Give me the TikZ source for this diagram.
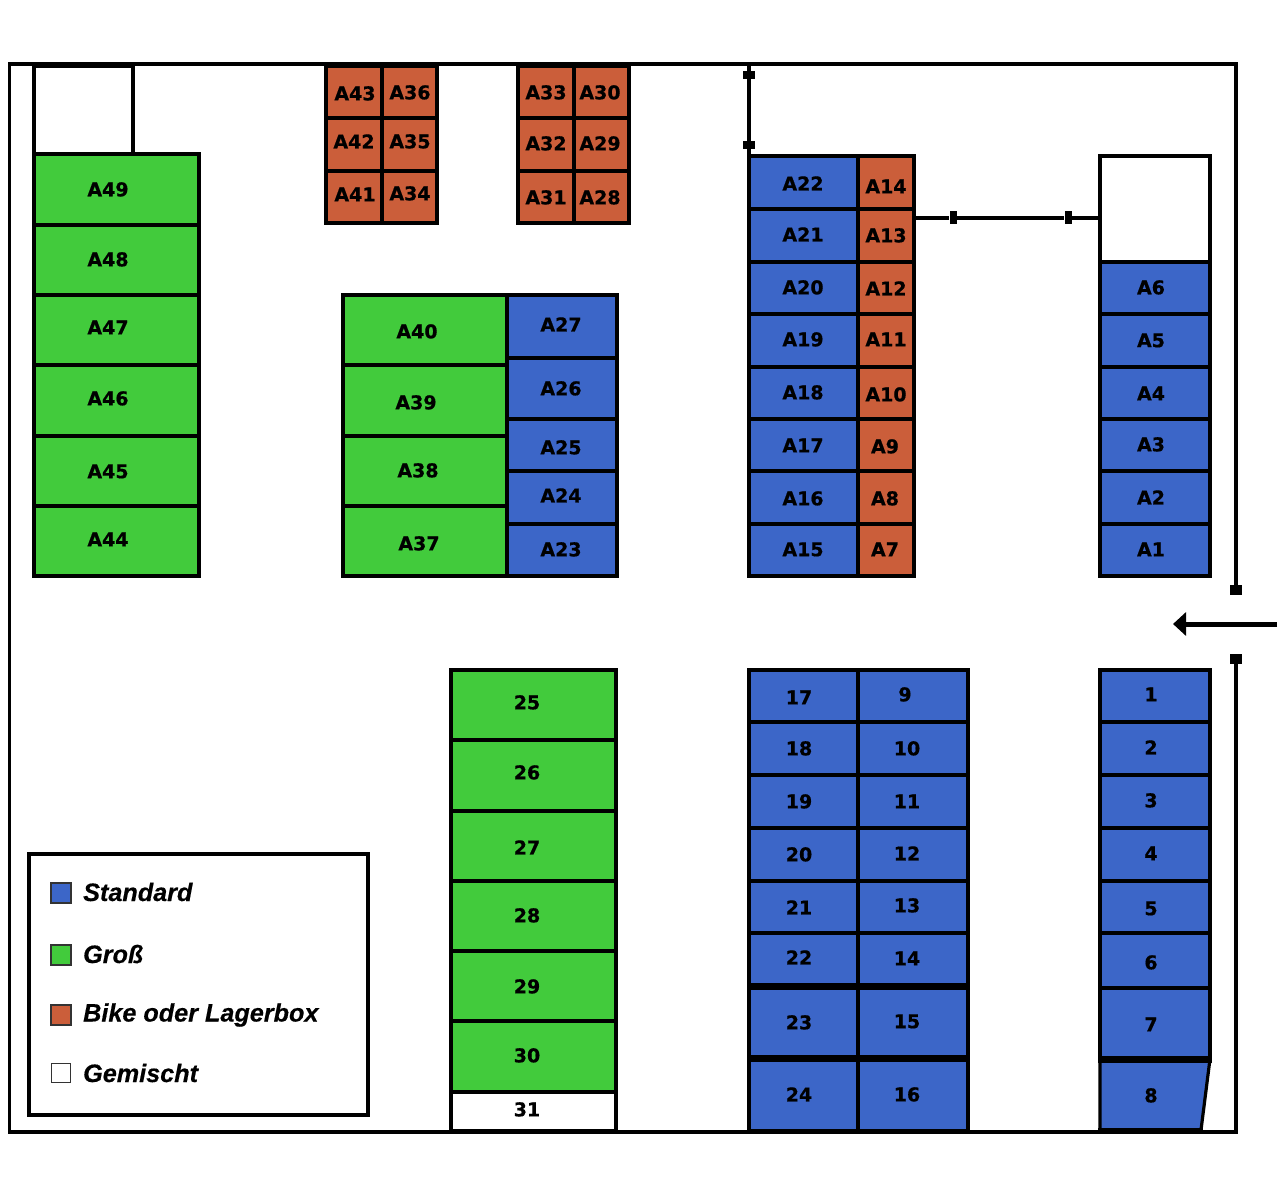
\documentclass[tikz,border=0pt]{standalone}
\usepackage{fontspec}
\setmainfont{DejaVu Sans}
\newfontfamily\cellfont[UprightFont=* Bold,FakeBold=0.6]{DejaVu Sans}
\newfontfamily\legendfont[UprightFont=* Bold Italic,FakeBold=0.4]{Liberation Sans}
\usetikzlibrary{arrows.meta}
\definecolor{stdblue}{RGB}{60,102,200}
\definecolor{bigreen}{RGB}{66,203,60}
\definecolor{bikered}{RGB}{203,94,58}
\tikzset{
	wall/.style={draw=black,line width=3.2pt},
	slot/.style={draw=black,line width=3.2pt},
	seam/.style={draw=black,line width=7pt},
	post/.style={fill=black,inner sep=0pt,minimum width=#1},
	lbl/.style={font=\cellfont\fontsize{19}{20}\selectfont,inner sep=0pt,yshift=-0.4pt},
	swatch/.style={draw=black!80,line width=1.5pt,minimum size=20pt,inner sep=0pt},
	legtext/.style={font=\legendfont\fontsize{25.2}{28}\selectfont,anchor=west,inner sep=0pt}
}
\begin{document}
\begin{tikzpicture}[x=1pt,y=-1pt]
	\useasboundingbox[fill=white] (0,0) rectangle (1286,1177);
	\coordinate (gateup) at (1236,590);
	\coordinate (gatedown) at (1236,659);
	\draw[wall] (gateup) -- (1236,64) -- (9.5,64) -- (9.5,1132) -- (1236,1132) -- (gatedown);
	\draw[slot] (34,66) rectangle (133,154);
	\foreach \t/\b in {154/225,225/295,295/365,365/436,436/506,506/576}
		\draw[slot,fill=bigreen] (34,\t) rectangle (199,\b);
	\foreach \xa/\xb in {326/382,382/437,518/574,574/629}
		\foreach \t/\b in {66/118,118/171,171/223}
			\draw[slot,fill=bikered] (\xa,\t) rectangle (\xb,\b);
	\foreach \t/\b in {295/365,365/436,436/506,506/576}
		\draw[slot,fill=bigreen] (343,\t) rectangle (507,\b);
	\foreach \t/\b in {295/358,358/419,419/471,471/524,524/576}
		\draw[slot,fill=stdblue] (507,\t) rectangle (617,\b);
	\foreach \t/\b in {156/209,209/262,262/314,314/367,367/419,419/471,471/524,524/576} {
		\draw[slot,fill=stdblue] (749,\t) rectangle (858,\b);
		\draw[slot,fill=bikered] (858,\t) rectangle (914,\b);
	}
	\draw[slot,fill=white] (1100,156) rectangle (1210,262);
	\foreach \t/\b in {262/314,314/367,367/419,419/471,471/524,524/576}
		\draw[slot,fill=stdblue] (1100,\t) rectangle (1210,\b);
	\foreach \t/\b in {670/740,740/811,811/881,881/951,951/1021,1021/1092}
		\draw[slot,fill=bigreen] (451,\t) rectangle (616,\b);
	\draw[slot,fill=white] (451,1092) rectangle (616,1131);
	\foreach \t/\b in {670/722,722/775,775/828,828/881,881/933,933/986,986/1058,1058/1131} {
		\draw[slot,fill=stdblue] (749,\t) rectangle (858,\b);
		\draw[slot,fill=stdblue] (858,\t) rectangle (968,\b);
	}
	\draw[seam] (747,986) -- (970,986);
	\draw[seam] (747,1058) -- (970,1058);
	\foreach \t/\b in {670/722,722/775,775/828,828/881,881/933,933/988,988/1059}
		\draw[slot,fill=stdblue] (1100,\t) rectangle (1210,\b);
	\draw[slot,fill=stdblue] (1100,1059) -- (1210,1059) -- (1201,1130) -- (1100,1130) -- cycle;
	\draw[seam] (1098,1059) -- (1212,1059);
	\draw[line width=5pt] (1098,1130) -- (1203,1130);
	\node[post=12pt,minimum height=8pt] (ta) at (749,75) {};
	\node[post=12pt,minimum height=8pt] (tb) at (749,145) {};
	\node[post=7pt,minimum height=13pt] (tc) at (953,218) {};
	\node[post=7pt,minimum height=13pt] (td) at (1068,218) {};
	\node[post=12pt,minimum height=10pt] (te) at (gateup) {};
	\node[post=12pt,minimum height=10pt] (tf) at (gatedown) {};
	\draw[wall] (749,64) -- (ta) -- (tb) -- (749,156);
	\draw[wall] (914,218) -- (tc) -- (td) -- (1100,218);
	\coordinate (drivein) at (1277,624);
	\coordinate (driveout) at (1173,624);
	\draw[-{Triangle[length=13pt,width=23pt]},line width=5pt] (drivein) -- (driveout);
	\foreach \n/\x/\y in {A49/108/189,A48/108/259,A47/108/327,A46/108/398,A45/108/471,A44/108/539,
		A43/355/93,A36/410/92,A42/354/141,A35/410/141,A41/355/194,A34/410/193,
		A33/546/92,A30/600/92,A32/546/143,A29/600/143,A31/546/197,A28/600/197,
		A40/417/331,A39/416/402,A38/418/470,A37/419/543,
		A27/561/324,A26/561/388,A25/561/447,A24/561/495,A23/561/549,
		A22/803/183,A21/803/234,A20/803/287,A19/803/339,A18/803/392,A17/803/445,A16/803/498,A15/803/549,
		A14/886/186,A13/886/235,A12/886/288,A11/886/339,A10/886/394,A9/885/446,A8/885/498,A7/885/549,
		A6/1151/287,A5/1151/340,A4/1151/393,A3/1151/444,A2/1151/497,A1/1151/549,
		25/527/702,26/527/772,27/527/847,28/527/915,29/527/986,30/527/1055,31/527/1109,
		17/799/697,18/799/748,19/799/801,20/799/854,21/799/907,22/799/957,23/799/1022,24/799/1094,
		9/905/694,10/907/748,11/907/801,12/907/853,13/907/905,14/907/958,15/907/1021,16/907/1094,
		1/1151/694,2/1151/747,3/1151/800,4/1151/853,5/1151/908,6/1151/962,7/1151/1024,8/1151/1095}
		\node[lbl] (\n) at (\x,\y) {\n};
	\node[draw=black,line width=3.2pt,minimum width=339pt,minimum height=261pt,inner sep=0pt] (legend) at (198.5,984.5) {};
	\node[swatch,fill=stdblue] (kstd) at (61,893) {};
	\node[swatch,fill=bigreen] (kbig) at (61,955) {};
	\node[swatch,fill=bikered] (kbike) at (61,1015) {};
	\node[swatch,fill=white,minimum size=19pt] (kmix) at (61,1073) {};
	\node[legtext] (tstd) at (83,892) {Standard};
	\node[legtext] (tbig) at (83,954) {Groß};
	\node[legtext] (tbike) at (83,1015) {Bike oder Lagerbox};
	\node[legtext] (tmix) at (83,1073) {Gemischt};
\end{tikzpicture}
\end{document}
